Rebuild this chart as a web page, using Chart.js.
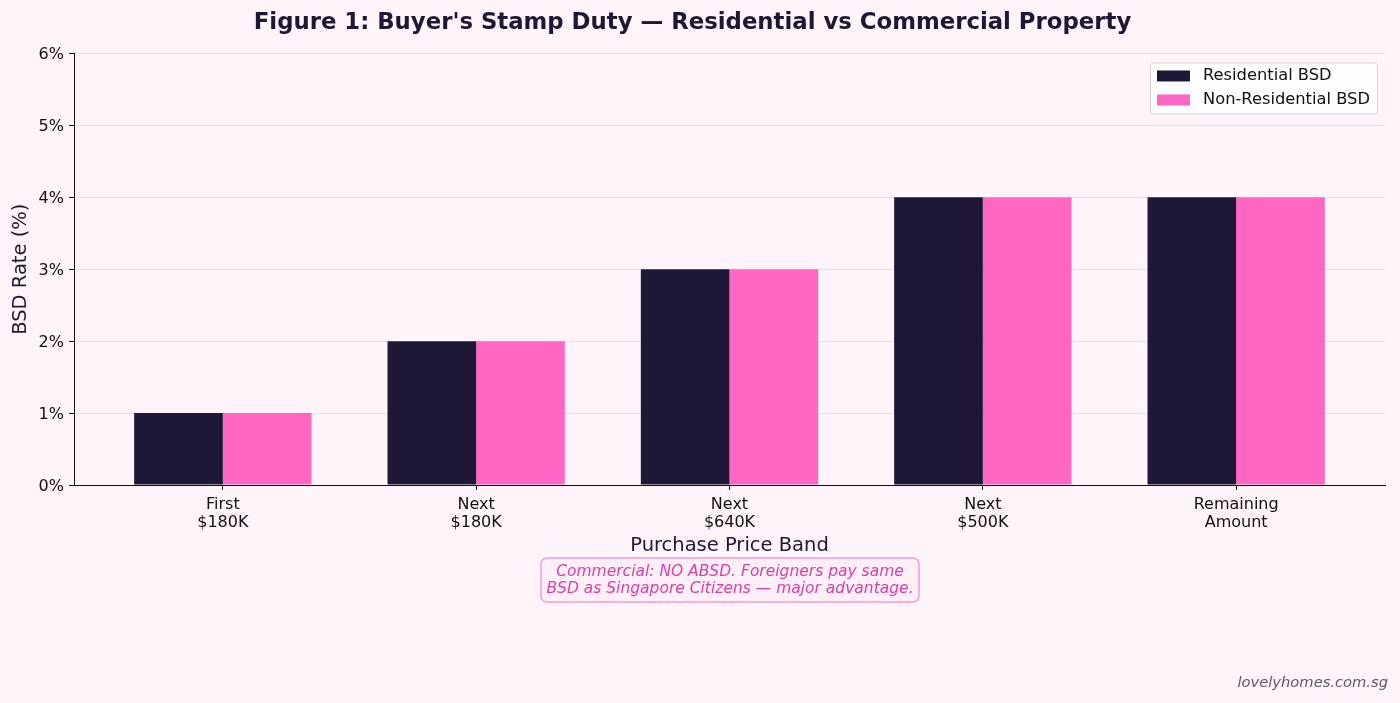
<!DOCTYPE html>
<html lang="en">
<head>
    <meta charset="UTF-8">
    <title>Buyer's Stamp Duty — Residential vs Commercial Property</title>
    <script src="https://cdn.jsdelivr.net/npm/chart.js"></script>
    <style>
        html, body {
            margin: 0;
            padding: 0;
            background-color: #fff4fa;
        }
        .chart-wrap {
            width: 1400px;
            height: 703px;
        }
    </style>
</head>
<body>
    <div class="chart-wrap">
        <canvas id="bsdChart" width="1400" height="703"></canvas>
    </div>

    <script>
        // Data
        const bands = ['First\n$180K', 'Next\n$180K', 'Next\n$640K', 'Next\n$500K', 'Remaining\nAmount'];
        const residentialBSD = [1, 2, 3, 4, 4];
        const nonResidentialBSD = [1, 2, 3, 4, 4];
        const seriesNames = ['Residential BSD', 'Non-Residential BSD'];
        const yTicks = [0, 1, 2, 3, 4, 5, 6];

        const navy = '#1e1836';
        const pink = '#ff66c4';
        const font = "'DejaVu Sans', sans-serif";

        // page background + legend + note + watermark
        const extras = {
            id: 'extras',
            beforeDraw(chart) {
                const ctx = chart.ctx;
                ctx.save();
                ctx.fillStyle = '#fff4fa';
                ctx.fillRect(0, 0, chart.width, chart.height);
                ctx.restore();
            },
            afterDraw(chart) {
                const ctx = chart.ctx;
                const area = chart.chartArea;
                ctx.save();

                // legend box, top right inside the plot
                const lx = area.right - 235, ly = area.top + 9, lw = 227, lh = 51;
                ctx.fillStyle = 'rgba(255,255,255,0.85)';
                ctx.strokeStyle = '#d6d0d6';
                ctx.lineWidth = 1;
                ctx.beginPath();
                ctx.roundRect(lx + 0.5, ly + 0.5, lw, lh, 3);
                ctx.fill();
                ctx.stroke();
                const colors = [navy, pink];
                ctx.font = '16.3px ' + font;
                ctx.textBaseline = 'middle';
                seriesNames.forEach((name, i) => {
                    const y = ly + 13 + i * 24;
                    ctx.fillStyle = colors[i];
                    ctx.fillRect(lx + 7, y - 5, 33, 11);
                    ctx.fillStyle = '#111';
                    ctx.fillText(name, lx + 53, y);
                });

                // note box under the x title
                const bx = 541, by = 558, bw = 378, bh = 44;
                ctx.fillStyle = '#fff0f8';
                ctx.strokeStyle = '#f39ad2';
                ctx.lineWidth = 1.5;
                ctx.beginPath();
                ctx.roundRect(bx, by, bw, bh, 6);
                ctx.fill();
                ctx.stroke();
                ctx.fillStyle = '#d93fa6';
                ctx.font = 'italic 15.5px ' + font;
                ctx.textAlign = 'center';
                ctx.fillText('Commercial: NO ABSD. Foreigners pay same', bx + bw / 2, by + 14);
                ctx.fillText('BSD as Singapore Citizens \u2014 major advantage.', bx + bw / 2, by + 31);

                // watermark
                ctx.fillStyle = '#5f5870';
                ctx.font = 'italic 14.7px ' + font;
                ctx.textAlign = 'right';
                ctx.fillText('lovelyhomes.com.sg', 1388, 683);
                ctx.restore();
            }
        };

        new Chart(document.getElementById('bsdChart'), {
            type: 'bar',
            data: {
                datasets: [
                    {
                        label: seriesNames[0],
                        data: residentialBSD.map((v, i) => ({ x: i, y: v })),
                        backgroundColor: navy,
                        borderWidth: 0
                    },
                    {
                        label: seriesNames[1],
                        data: nonResidentialBSD.map((v, i) => ({ x: i, y: v })),
                        backgroundColor: pink,
                        borderWidth: 0
                    }
                ]
            },
            options: {
                responsive: false,
                animation: false,
                categoryPercentage: 0.7,
                barPercentage: 1.0,
                layout: {
                    padding: { left: 0, right: 15, top: 0, bottom: 144 }
                },
                plugins: {
                    legend: { display: false },
                    tooltip: { enabled: false },
                    title: {
                        display: true,
                        text: "Figure 1: Buyer's Stamp Duty \u2014 Residential vs Commercial Property",
                        color: navy,
                        font: { family: font, size: 22.8, weight: 'bold' },
                        padding: { top: 9.3, bottom: 16.8 }
                    }
                },
                scales: {
                    x: {
                        type: 'linear',
                        offset: false,
                        min: -0.5875,
                        max: 4.5875,
                        afterBuildTicks(scale) {
                            scale.ticks = bands.map((_, i) => ({ value: i }));
                        },
                        afterFit(scale) {
                            scale.height = 74;
                        },
                        ticks: {
                            color: '#111',
                            font: { family: font, size: 16, lineHeight: 1.12 },
                            padding: 5.5,
                            maxRotation: 0,
                            autoSkip: false,
                            callback: (v) => bands[v] ? bands[v].split('\n') : ''
                        },
                        grid: {
                            offset: false,
                            drawOnChartArea: false,
                            drawTicks: true,
                            tickLength: 5,
                            tickColor: '#111'
                        },
                        border: { color: '#111', width: 1 },
                        title: {
                            display: true,
                            text: 'Purchase Price Band',
                            color: navy,
                            font: { family: font, size: 19.5 },
                            padding: { top: 3.5, bottom: 1.5 }
                        }
                    },
                    y: {
                        min: 0,
                        max: 6,
                        afterBuildTicks(scale) {
                            scale.ticks = yTicks.map(v => ({ value: v }));
                        },
                        afterFit(scale) {
                            scale.width = 74;
                        },
                        ticks: {
                            color: '#111',
                            font: { family: font, size: 16 },
                            padding: 5,
                            labelOffset: 1.5,
                            callback: (v) => v + '%'
                        },
                        grid: {
                            color: '#ecdde8',
                            tickColor: '#111',
                            tickLength: 5
                        },
                        border: { color: '#111', width: 1 },
                        title: {
                            display: true,
                            text: 'BSD Rate (%)',
                            color: navy,
                            font: { family: font, size: 19.5 },
                            padding: { top: 9, bottom: 4 }
                        }
                    }
                }
            },
            plugins: [extras]
        });
    </script>
</body>
</html>
